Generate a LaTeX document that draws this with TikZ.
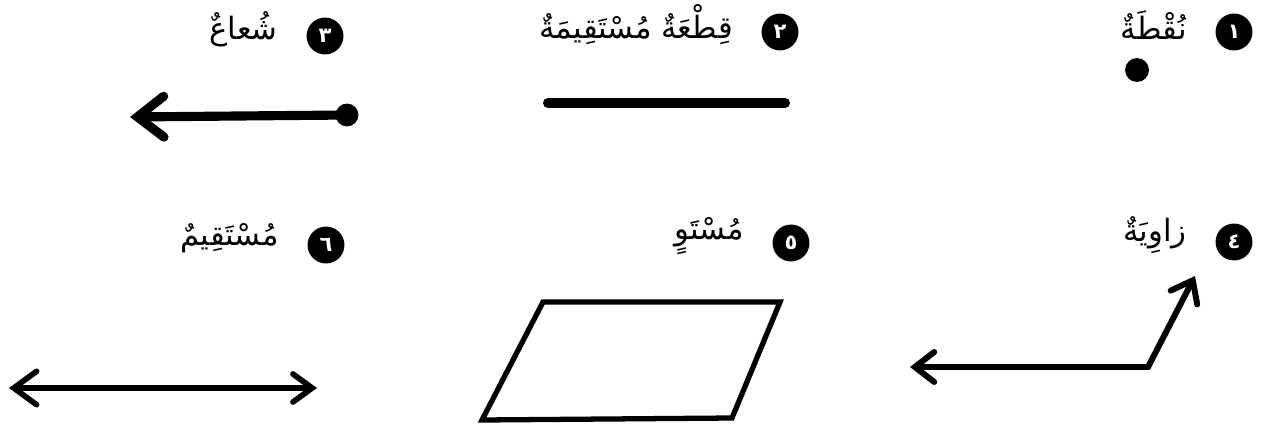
\documentclass[tikz,border=0pt]{standalone}
\usepackage{fontspec}
\newfontfamily\arabicfont[Script=Arabic]{DejaVu Sans}
\TeXXeTstate=1
\usetikzlibrary{arrows.meta,positioning}

\definecolor{cInk}{gray}{0.0}
\definecolor{cNum}{gray}{1.0}

\tikzset{
  numdisc/.style={circle, fill=cInk, inner sep=0pt, minimum size=21pt,
    text=cNum, font=\arabicfont\bfseries\fontsize{12}{12}\selectfont},
  termlabel/.style={inner sep=0pt, text=cInk, yshift=4pt,
    font=\arabicfont\fontsize{17.5}{20}\selectfont},
  barb/.style={-{Straight Barb[length=#1, width=1.55*#1, line cap=round]}},
}

\begin{document}
\begin{tikzpicture}[x=0.02cm, y=-0.02cm, line cap=round]

\useasboundingbox (0,0) rectangle (1271,433);

% ── Number discs ──
\node[numdisc] (num1) at (1234, 32) {١};
\node[numdisc] (num2) at (780, 32) {٢};
\node[numdisc] (num3) at (325, 36) {٣};
\node[numdisc] (num4) at (1234, 242) {٤};
\node[numdisc] (num5) at (791, 243) {٥};
\node[numdisc] (num6) at (326, 245) {٦};

% ── Term labels ──
\node[termlabel, left=16pt of num1] (lbl1) {\beginR نُقْطَةٌ\endR};
\node[termlabel, left=16pt of num2] (lbl2) {\beginR قِطْعَةٌ مُسْتَقِيمَةٌ\endR};
\node[termlabel, left=16pt of num3] (lbl3) {\beginR شُعاعٌ\endR};
\node[termlabel, left=16pt of num4] (lbl4) {\beginR زاوِيَةٌ\endR};
\node[termlabel, left=16pt of num5] (lbl5) {\beginR مُسْتَوٍ\endR};
\node[termlabel, left=16pt of num6] (lbl6) {\beginR مُسْتَقِيمٌ\endR};

% ── 1: point ──
\fill[cInk] (1137, 70) circle[radius=6.8pt];

% ── 2: segment ──
\draw[cInk, line width=5.7pt] (548, 103) -- (785, 103);

% ── 3: ray ──
\fill[cInk] (347, 115) circle[radius=6.5pt];
\draw[cInk, line width=5.2pt, barb=15pt] (347, 115) -- (130, 117);

% ── 4: angle ──
\draw[cInk, line width=3.4pt, barb=11pt] (1148, 367) -- (910, 367);
\draw[cInk, line width=3.4pt, barb=11pt] (1148, 367) -- (1195, 276);

% ── 5: plane ──
\draw[cInk, line width=3pt, line join=miter]
  (543, 302) -- (780, 302) -- (732, 418) -- (482, 420) -- cycle;

% ── 6: line ──
\draw[cInk, line width=3.2pt, {Straight Barb[length=13pt, width=19pt, line cap=round]}-{Straight Barb[length=11pt, width=16pt, line cap=round]}]
  (9, 388) -- (317, 388);

\end{tikzpicture}
\end{document}
